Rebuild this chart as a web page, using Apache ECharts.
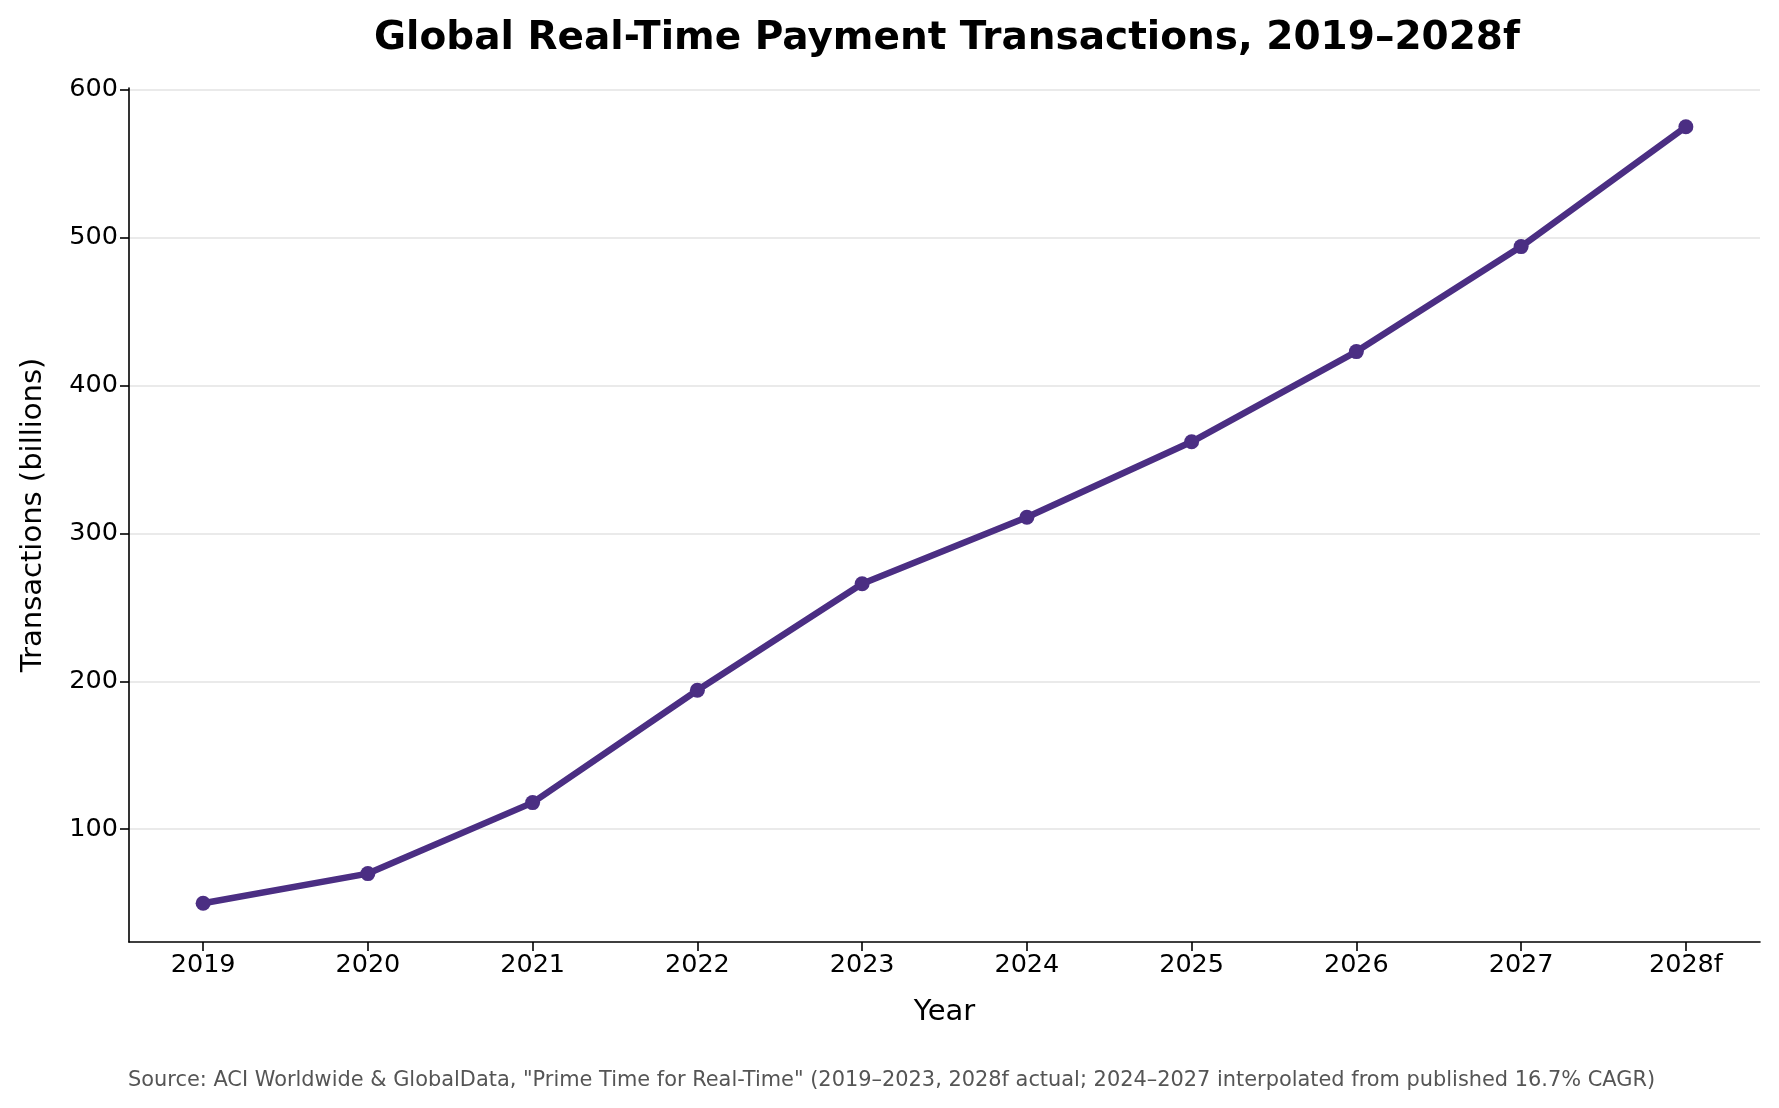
<!DOCTYPE html>
<html>
<head>
<meta charset="utf-8">
<script src="https://cdn.jsdelivr.net/npm/echarts@6/dist/echarts.min.js"></script>
<style>
html,body{margin:0;padding:0;background:#fff;}
#chart{width:1779px;height:1108px;}
</style>
</head>
<body>
<div id="chart"></div>
<script>
const years = ['2019','2020','2021','2022','2023','2024','2025','2026','2027','2028f'];
const transactions = [50, 70, 118, 194, 266, 311, 362, 423, 494, 575];
const yTicks = [100, 200, 300, 400, 500, 600];

const chart = echarts.init(document.getElementById('chart'), null, {renderer: 'canvas'});
const font = 'DejaVu Sans';
const idx = years.map((_, i) => i);

chart.setOption({
  backgroundColor: '#ffffff',
  animation: false,
  title: [
    {
      text: 'Global Real-Time Payment Transactions, 2019\u20132028f',
      left: 942, top: 14, textAlign: 'center',
      textStyle: {fontFamily: font, fontWeight: 'bold', fontSize: 39, color: '#000'}
    },
    {
      text: 'Source: ACI Worldwide & GlobalData, "Prime Time for Real-Time" (2019\u20132023, 2028f actual; 2024\u20132027 interpolated from published 16.7% CAGR)',
      left: 123, top: 1065,
      textStyle: {fontFamily: font, fontWeight: 'normal', fontSize: 20.9, color: '#555555'}
    }
  ],
  grid: {left: 129, right: 19, top: 88, bottom: 166, containLabel: false},
  xAxis: {
    type: 'value',
    min: -0.45, max: 9.45,
    name: 'Year', nameLocation: 'middle', nameGap: 56,
    nameTextStyle: {fontFamily: font, fontSize: 29, color: '#000'},
    axisLine: {show: true, onZero: false, lineStyle: {color: '#000', width: 1.6}},
    axisTick: {show: true, inside: false, length: 9, customValues: idx, lineStyle: {color: '#000', width: 1.6}},
    axisLabel: {show: true, margin: 10, customValues: idx, fontFamily: font, fontSize: 25.5, color: '#000',
      formatter: v => years[Math.round(v)] || ''},
    splitLine: {show: false}
  },
  yAxis: {
    type: 'value',
    min: 23.75, max: 601.25,
    name: 'Transactions (billions)', nameLocation: 'middle', nameGap: 81,
    nameTextStyle: {fontFamily: font, fontSize: 29, color: '#000'},
    axisLine: {show: true, onZero: false, lineStyle: {color: '#000', width: 1.6}},
    axisTick: {show: true, inside: false, length: 9, customValues: yTicks, lineStyle: {color: '#000', width: 1.6}},
    axisLabel: {show: true, margin: 11, customValues: yTicks, fontFamily: font, fontSize: 25.5, color: '#000'},
    splitLine: {show: true, lineStyle: {color: '#e3e3e3', width: 1.6}}
  },
  series: [{
    type: 'line',
    data: transactions.map((v, i) => [i, v]),
    symbol: 'circle', symbolSize: 15,
    lineStyle: {color: '#4B2E83', width: 6.5},
    itemStyle: {color: '#4B2E83'},
    z: 3
  }]
});
</script>
</body>
</html>
